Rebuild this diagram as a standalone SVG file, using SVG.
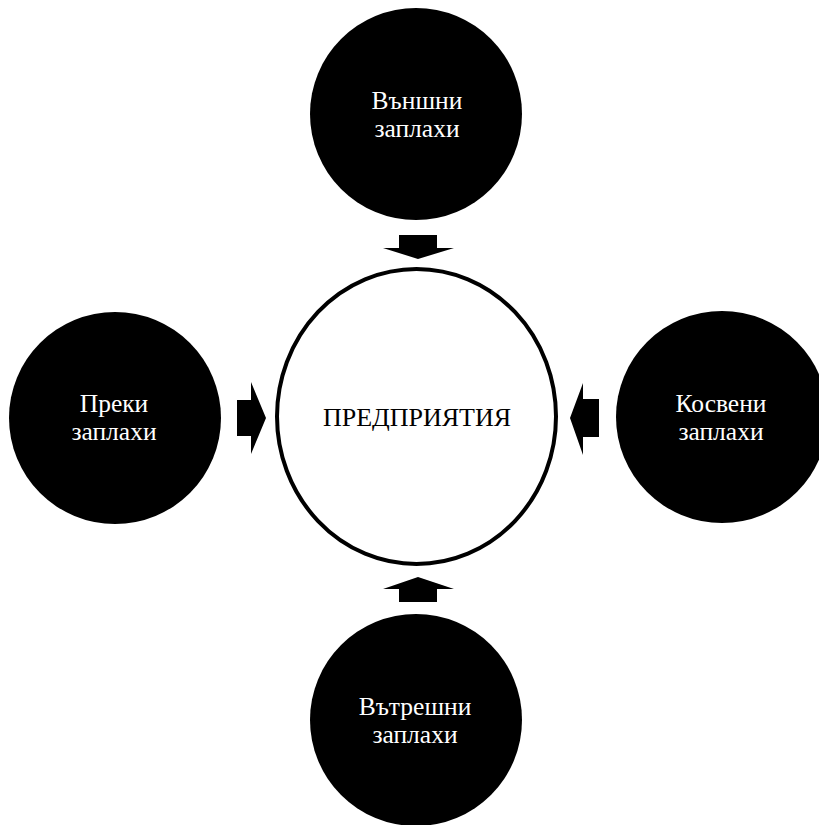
<svg xmlns="http://www.w3.org/2000/svg" width="819" height="825" viewBox="0 0 819 825">
<style>
.node{fill:#000;}
.lbl{font-family:"Liberation Serif","Times New Roman",serif;font-size:25.5px;fill:#fff;text-anchor:middle;}
.ctr{font-family:"Liberation Serif","Times New Roman",serif;font-size:26px;fill:#000;text-anchor:middle;}
.arr{fill:#000;}
</style>
<rect width="819" height="825" fill="#fff"/>
<g id="center">
<ellipse cx="416.5" cy="416.5" rx="139.5" ry="147.5" fill="#fff" stroke="#000" stroke-width="4"/>
<text class="ctr" x="417" y="426">ПРЕДПРИЯТИЯ</text>
</g>
<g id="top">
<circle class="node" cx="416" cy="114" r="106"/>
<text class="lbl" x="417" y="109">Външни</text>
<text class="lbl" x="417" y="137">заплахи</text>
</g>
<g id="left">
<circle class="node" cx="115" cy="418" r="106"/>
<text class="lbl" x="114" y="412">Преки</text>
<text class="lbl" x="114" y="440">заплахи</text>
</g>
<g id="right">
<circle class="node" cx="722" cy="417" r="106"/>
<text class="lbl" x="721" y="412">Косвени</text>
<text class="lbl" x="721" y="440">заплахи</text>
</g>
<g id="bottom">
<circle class="node" cx="416" cy="720" r="106"/>
<text class="lbl" x="415" y="715">Вътрешни</text>
<text class="lbl" x="415" y="743">заплахи</text>
</g>
<g id="connectors">
<polygon class="arr" points="399,235 437,235 437,248 454,248 418,259 383,248 399,248"/>
<polygon class="arr" points="399,602 437,602 437,589 454,589 418,577 383,589 399,589"/>
<polygon class="arr" points="237,400 251,400 251,382 266,418 251,454 251,436 237,436"/>
<polygon class="arr" points="599,399 583,399 583,383 570,418 583,455 583,437 599,437"/>
</g>
</svg>
